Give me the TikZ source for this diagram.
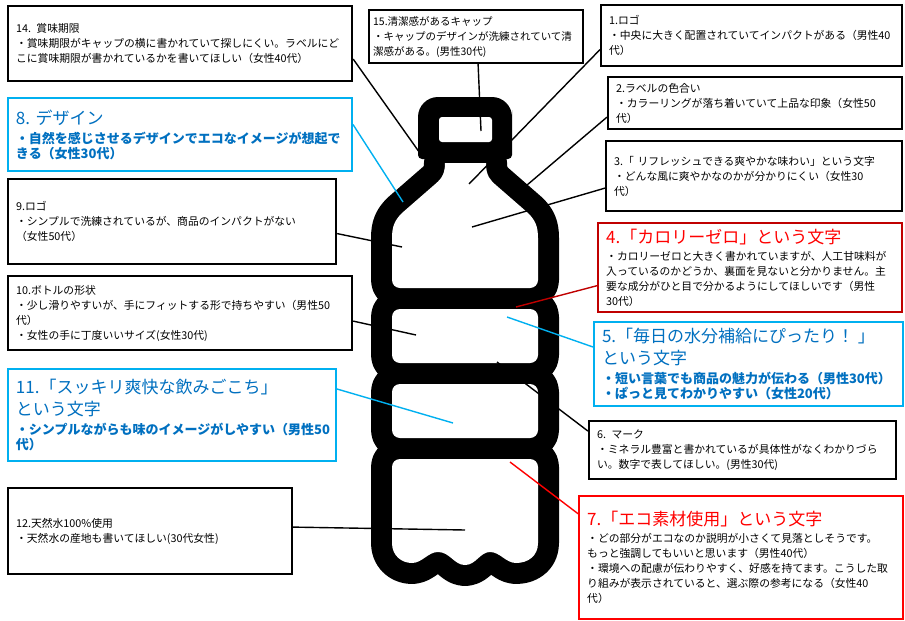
\documentclass[tikz,border=0pt]{standalone}
\usepackage{tikz}
\usepackage{fontspec}
\setmainfont{Noto Sans CJK JP}
\definecolor{skyline}{HTML}{00B0F0}
\definecolor{bluetext}{HTML}{0070C0}
\definecolor{darkred}{HTML}{C00000}
\definecolor{alertred}{HTML}{FF0000}
\newcommand\notetitle[1]{{\fontsize{17}{22}\selectfont #1\par}\vskip 2pt}
\tikzstyle{note}=[draw=black, line width=2.2pt, anchor=north west, align=left, inner xsep=8pt, inner ysep=1pt, font=\fontsize{10.8}{15}\selectfont]
\tikzstyle{blue note}=[note, draw=skyline, line width=2pt, text=bluetext]
\tikzstyle{red note}=[note, draw=alertred, line width=2.4pt]
\tikzstyle{darkred note}=[note, draw=darkred, line width=2.4pt]
\tikzstyle{link} = [draw, line width=1.4pt]
\def\bottleshoulder{(445,163) -- (486,163) .. controls (486,176) and (490,180) .. (497,186) -- (528,213) .. controls (535,220) and (538,226) .. (538,238) -- (538,260) [rounded corners=8pt] -- (538,288) -- (392,288) -- (392,260) [sharp corners] -- (392,238) .. controls (392,226) and (395,220) .. (402,213) -- (433,186) .. controls (440,180) and (445,176) .. (445,163) -- cycle}
\def\bottlebase{(392,520) [rounded corners=8pt] -- (392,459) -- (538,459) -- (538,520) [sharp corners] -- (538,543) .. controls (538,556) and (528,563) .. (516,563) .. controls (506,563) and (500,552) .. (490,552) .. controls (480,552) and (476,565) .. (465,565) .. controls (454,565) and (450,552) .. (438,552) .. controls (428,552) and (422,563) .. (412,563) .. controls (402,563) and (392,556) .. (392,543) -- cycle}

\begin{document}
\begin{tikzpicture}[x=1pt,y=-1pt]
			\useasboundingbox (0,0) rectangle (905,621);
			\fill[white] (0,0) rectangle (905,621);
			% bottle: thick outline first, then the white inside
			\begin{scope}[line width=42pt, line join=round]
				\draw \bottleshoulder;
				\draw \bottlebase;
				\foreach \ytop in {309,384}
					\draw[rounded corners=8pt] (392,\ytop) rectangle (538,\ytop+54);
			\end{scope}
			\fill[white] \bottleshoulder;
			\fill[white] \bottlebase;
			\foreach \ytop in {309,384}
				\fill[white, rounded corners=8pt] (392,\ytop) rectangle (538,\ytop+54);
			% cap
			\fill (418,130) [rounded corners=20pt] -- (418,97) -- (512,97) -- (512,130) [rounded corners=4pt] -- (512,159) -- (418,159) -- cycle;
			\fill[white, rounded corners=3pt] (439,117) rectangle (492,142);

			% comments on the left
			\node[note, text width=328pt, minimum height=75pt] (b14) at (7,5) {14. 賞味期限\\・賞味期限がキャップの横に書かれていて探しにくい。ラベルにど\\こに賞味期限が書かれているかを書いてほしい（女性40代）};
			\node[blue note, text width=328pt, minimum height=73pt] (b8) at (7,97) {\notetitle{8. デザイン}\fontsize{13}{17}\selectfont\bfseries ・自然を感じさせるデザインでエコなイメージが想起で\\きる（女性30代）};
			\node[note, text width=312pt, minimum height=85pt] (b9) at (7,178) {9.ロゴ\\・シンプルで洗練されているが、商品のインパクトがない\\（女性50代）};
			\node[note, text width=328pt, minimum height=74pt] (b10) at (7,275) {10.ボトルの形状\\・少し滑りやすいが、手にフィットする形で持ちやすい（男性50\\代）\\・女性の手に丁度いいサイズ(女性30代)};
			\node[blue note, text width=312pt, minimum height=92pt] (b11) at (7,368) {\notetitle{11.「スッキリ爽快な飲みごこち」\\という文字}\fontsize{13}{17}\selectfont\bfseries ・シンプルながらも味のイメージがしやすい（男性50\\代）};
			\node[note, text width=268pt, minimum height=86pt] (b12) at (7,487) {12.天然水100\%使用\\・天然水の産地も書いてほしい(30代女性)};
			% comments on the right
			\node[note, inner xsep=4pt, text width=206pt, minimum height=53pt, font=\fontsize{10.5}{15}\selectfont] (b15) at (368,9) {15.清潔感があるキャップ\\・キャップのデザインが洗練されていて清\\潔感がある。(男性30代)};
			\node[note, text width=285pt, minimum height=61pt] (b1) at (600,4) {1.ロゴ\\・中央に大きく配置されていてインパクトがある（男性40\\代）};
			\node[note, text width=278pt, minimum height=52pt] (b2) at (607,76) {2.ラベルの色合い\\・カラーリングが落ち着いていて上品な印象（女性50\\代）};
			\node[note, text width=280pt, minimum height=70pt] (b3) at (605,140) {3.「 リフレッシュできる爽やかな味わい」という文字\\・どんな風に爽やかなのかが分かりにくい（女性30\\代）};
			\node[darkred note, text width=288pt, minimum height=89pt] (b4) at (597,222) {\notetitle{\textcolor{alertred}{4.「カロリーゼロ」という文字}}・カロリーゼロと大きく書かれていますが、人工甘味料が\\入っているのかどうか、裏面を見ないと分かりません。主\\要な成分がひと目で分かるようにしてほしいです（男性\\30代）};
			\node[blue note, text width=293pt, minimum height=84pt] (b5) at (593,321) {\notetitle{5.「毎日の水分補給にぴったり！ 」\\という文字}\fontsize{13}{17}\selectfont\bfseries ・短い言葉でも商品の魅力が伝わる（男性30代）\\・ぱっと見てわかりやすい（女性20代）};
			\node[note, text width=291pt, minimum height=58pt] (b6) at (588,420) {6. マーク\\・ミネラル豊富と書かれているが具体性がなくわかりづら\\い。数字で表してほしい。(男性30代)};
			\node[red note, text width=308pt, minimum height=123pt] (b7) at (578,495) {\notetitle{\textcolor{alertred}{7.「エコ素材使用」という文字}}・どの部分がエコなのか説明が小さくて見落としそうです。\\もっと強調してもいいと思います（男性40代）\\・環境への配慮が伝わりやすく、好感を持てます。こうした取\\り組みが表示されていると、選ぶ際の参考になる（女性40\\代）};

			% where each leader line leaves its box
			\coordinate (s14) at ([yshift=-15.5pt]b14.east);
			\coordinate (s8) at ([yshift=10pt]b8.east);
			\coordinate (s9) at ([yshift=-12pt]b9.east);
			\coordinate (s10) at ([yshift=-8pt]b10.east);
			\coordinate (s11) at ([yshift=26pt]b11.east);
			\coordinate (s12) at ([yshift=4pt]b12.east);
			\coordinate (s15) at ([xshift=2pt]b15.south);
			\coordinate (s1) at ([yshift=-14pt]b1.west);
			\coordinate (s2) at ([yshift=-14pt]b2.west);
			\coordinate (s3) at ([yshift=-12pt]b3.west);
			\coordinate (s4) at ([yshift=-18pt]b4.west);
			\coordinate (s5) at ([yshift=17pt]b5.west);
			\coordinate (s6) at ([yshift=19pt]b6.west);
			\coordinate (s7) at ([yshift=44pt]b7.west);
			% and where it points on the bottle
			\coordinate (p14) at (422,156);
			\coordinate (p15) at (481,131);
			\coordinate (p1) at (469,184);
			\coordinate (p2) at (520,191);
			\coordinate (p3) at (472,227);
			\coordinate (p4) at (516,307);
			\coordinate (p5) at (507,317);
			\coordinate (p6) at (497,362);
			\coordinate (p7) at (510,462);
			\coordinate (p8) at (403,202);
			\coordinate (p9) at (402,247);
			\coordinate (p10) at (416,335);
			\coordinate (p11) at (453,423);
			\coordinate (p12) at (465,530);
			% Connect comments with the bottle
			\foreach \source/ \dest in {s14/p14, s15/p15, s1/p1, s2/p2, s3/p3, s6/p6, s9/p9, s10/p10, s12/p12}
				\path[link] (\source) to (\dest);
			\foreach \source/ \dest in {s8/p8, s5/p5, s11/p11}
				\path[link, skyline] (\source) to (\dest);
			\path[link, darkred] (s4) to (p4);
			\path[link, alertred] (s7) to (p7);
		\end{tikzpicture}
\end{document}
